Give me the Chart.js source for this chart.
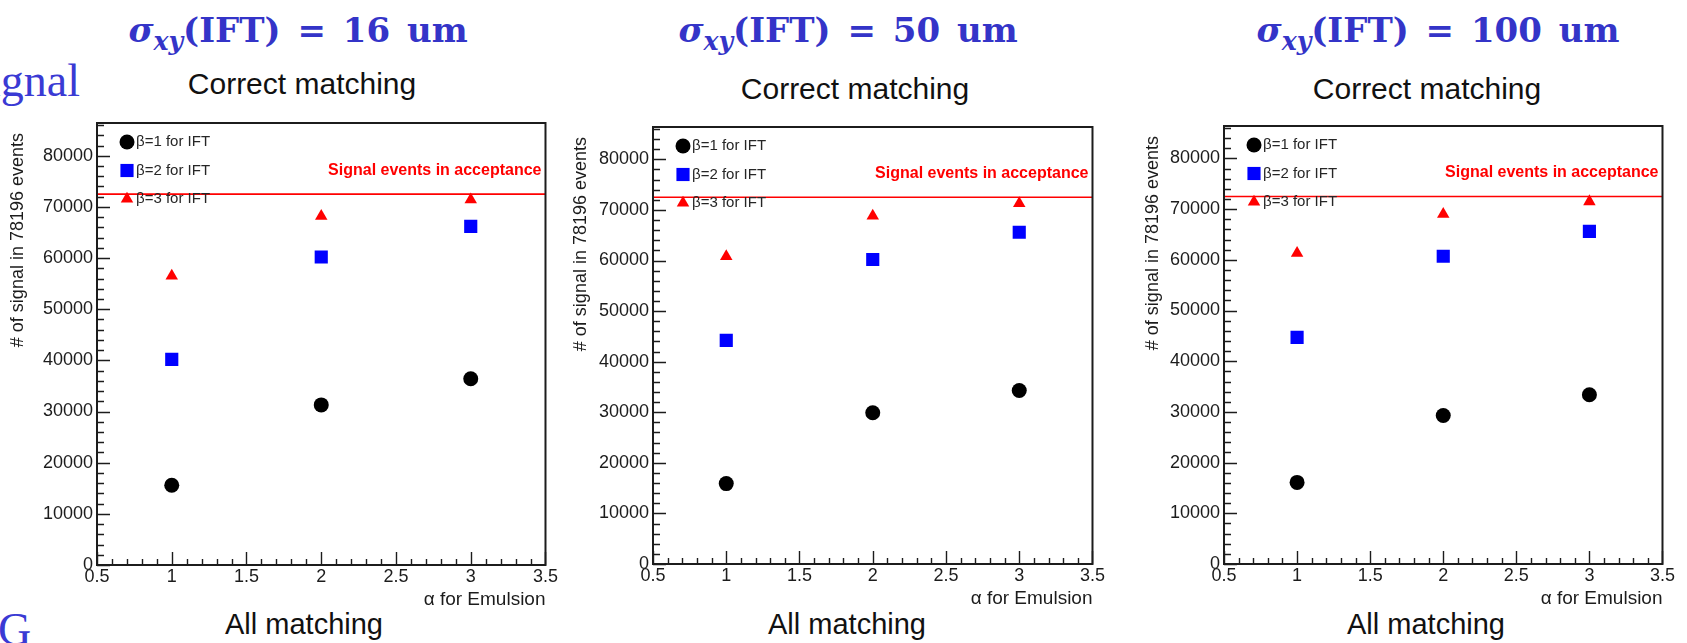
<!DOCTYPE html>
<html>
<head>
<meta charset="utf-8">
<script src="https://cdn.jsdelivr.net/npm/chart.js@4.4.1/dist/chart.umd.min.js"></script>
<style>
  html, body { margin: 0; padding: 0; background: #fff; }
  body { width: 1687px; height: 643px; position: relative; overflow: hidden; }
  canvas { position: absolute; }
  .txt { position: absolute; white-space: nowrap; line-height: 1; }
  .big { font-family: "DejaVu Serif", serif; font-weight: bold; font-size: 34px; word-spacing: 5px; color: #3434c8; transform: translateX(-50%); top: 13px; }
  .big i { font-style: italic; }
  .big sub { font-size: 0.74em; vertical-align: -0.3em; line-height: 0; }
  .sub { font-family: "Liberation Sans", Arial, sans-serif; color: #111; transform: translateX(-50%); }
  .correct { font-size: 30px; }
  .all { font-size: 29px; }
  .slide { font-family: "Liberation Serif", "Times New Roman", serif; font-size: 46px; color: #3a3ad4; }
</style>
</head>
<body>
<div class="txt slide" style="right:1607px; top:58px;">Signal</div>
<div class="txt slide" style="left:-2px; top:607px;">G</div>

<div class="txt big" style="left:298px;"><i>σ</i><sub><i>xy</i></sub>(IFT) = 16 um</div>
<div class="txt big" style="left:848px;"><i>σ</i><sub><i>xy</i></sub>(IFT) = 50 um</div>
<div class="txt big" style="left:1438px;"><i>σ</i><sub><i>xy</i></sub>(IFT) = 100 um</div>

<div class="txt sub correct" style="left:302px; top:69px;">Correct matching</div>
<div class="txt sub correct" style="left:855px; top:74px;">Correct matching</div>
<div class="txt sub correct" style="left:1427px; top:74px;">Correct matching</div>

<div class="txt sub all" style="left:304px; top:610px;">All matching</div>
<div class="txt sub all" style="left:847px; top:610px;">All matching</div>
<div class="txt sub all" style="left:1426px; top:610px;">All matching</div>

<canvas id="panel-16"></canvas>
<canvas id="panel-50"></canvas>
<canvas id="panel-100"></canvas>

<script>
// alpha values (x) shared by every panel
const alphaValues = [1, 2, 3];
const seriesLabels = ["β=1 for IFT", "β=2 for IFT", "β=3 for IFT"];

// sigma_xy(IFT) = 16 um
const beta1_16um = [15600, 31300, 36400];
const beta2_16um = [40200, 60200, 66200];
const beta3_16um = [56500, 68200, 71400];

// sigma_xy(IFT) = 50 um
const beta1_50um = [15900, 29900, 34300];
const beta2_50um = [44200, 60200, 65600];
const beta3_50um = [60800, 68800, 71300];

// sigma_xy(IFT) = 100 um
const beta1_100um = [16100, 29300, 33400];
const beta2_100um = [44700, 60700, 65600];
const beta3_100um = [61300, 69000, 71500];

// signal events in acceptance (horizontal red line)
const acceptanceEvents = 72500;

// tick labels
const xTickValues = [0.5, 1, 1.5, 2, 2.5, 3, 3.5];
const yTickValues = [0, 10000, 20000, 30000, 40000, 50000, 60000, 70000, 80000];

const X_MIN = 0.5, X_MAX = 3.5, X_MINOR = 0.1;
const Y_MIN = 0, Y_MAX = 86400, Y_MINOR = 2000;

const X_TITLE = "α for Emulsion";
const Y_TITLE = "# of signal in 78196 events";
const LINE_LABEL = "Signal events in acceptance";

const SANS = '"Liberation Sans", Arial, sans-serif';
const INK = "#1c1c1c";

// plot frames in page pixels, and where each y title sits
const panels = [
  { id: "panel-16",  frame: { L: 97,   T: 120, R: 551,  B: 565 }, yTitleX: 18,   series: [beta1_16um, beta2_16um, beta3_16um] },
  { id: "panel-50",  frame: { L: 653,  T: 124, R: 1098, B: 564 }, yTitleX: 581,  series: [beta1_50um, beta2_50um, beta3_50um] },
  { id: "panel-100", frame: { L: 1224, T: 123, R: 1668, B: 564 }, yTitleX: 1153, series: [beta1_100um, beta2_100um, beta3_100um] },
];

const markerStyles = [
  { pointStyle: "circle",   radius: 7.5, color: "#000000" },
  { pointStyle: "rect",     radius: 9.3, color: "#0000ff" },
  { pointStyle: "triangle", radius: 7.2, color: "#ff0000" },
];

function drawMarker(ctx, style, x, y) {
  ctx.fillStyle = style.color;
  if (Chart.helpers && Chart.helpers.drawPoint) {
    Chart.helpers.drawPoint(ctx, { pointStyle: style.pointStyle, radius: style.radius, rotation: 0, borderWidth: 0 }, x, y);
    return;
  }
  ctx.beginPath();
  ctx.arc(x, y, style.radius, 0, Math.PI * 2);
  ctx.fill();
}

// ROOT-like frame: box, inward ticks, legend, red acceptance line, y title
const rootFrame = {
  id: "rootFrame",
  beforeDatasetsDraw(chart, args, opts) {
    const { ctx, chartArea: a } = chart;
    const yLine = chart.scales.y.getPixelForValue(opts.acceptance);
    ctx.save();
    ctx.strokeStyle = "#ff0000";
    ctx.lineWidth = 1.6;
    ctx.beginPath();
    ctx.moveTo(a.left, yLine);
    ctx.lineTo(a.right, yLine);
    ctx.stroke();
    ctx.fillStyle = "#ff0000";
    ctx.font = `bold 16px ${SANS}`;
    ctx.textAlign = "right";
    ctx.textBaseline = "middle";
    ctx.fillText(LINE_LABEL, a.right - 4, yLine - 24);
    ctx.restore();
  },
  afterDatasetsDraw(chart, args, opts) {
    const { ctx, chartArea: a } = chart;
    const xs = chart.scales.x;
    const ys = chart.scales.y;
    ctx.save();

    ctx.strokeStyle = INK;
    ctx.lineWidth = 1.4;
    ctx.beginPath();
    // y minor ticks, then major ticks from the axis itself
    for (let v = Y_MIN; v <= Y_MAX; v += Y_MINOR) {
      const py = Math.round(ys.getPixelForValue(v)) + 0.5;
      ctx.moveTo(a.left, py);
      ctx.lineTo(a.left + 7, py);
    }
    ys.ticks.forEach((t) => {
      const py = Math.round(ys.getPixelForValue(t.value)) + 0.5;
      ctx.moveTo(a.left, py);
      ctx.lineTo(a.left + 13, py);
    });
    // x minor ticks, then major ticks
    const nMinor = Math.round((X_MAX - X_MIN) / X_MINOR);
    for (let i = 0; i <= nMinor; i++) {
      const px = Math.round(xs.getPixelForValue(X_MIN + i * X_MINOR)) + 0.5;
      ctx.moveTo(px, a.bottom);
      ctx.lineTo(px, a.bottom - 6);
    }
    xs.ticks.forEach((t) => {
      const px = Math.round(xs.getPixelForValue(t.value)) + 0.5;
      ctx.moveTo(px, a.bottom);
      ctx.lineTo(px, a.bottom - 13);
    });
    ctx.stroke();

    // frame
    ctx.lineWidth = 2;
    ctx.strokeRect(a.left, a.top, a.right - a.left, a.bottom - a.top);

    // legend
    ctx.font = `15px ${SANS}`;
    ctx.textAlign = "left";
    ctx.textBaseline = "middle";
    chart.data.datasets.forEach((ds, i) => {
      const y = a.top + 19 + i * 28.5;
      drawMarker(ctx, markerStyles[i], a.left + 30, y);
      ctx.fillStyle = "#262626";
      ctx.fillText(ds.label, a.left + 39, y);
    });

    // y title, rotated, ending near the top of the frame
    ctx.translate(opts.yTitleX, a.top + 10);
    ctx.rotate(-Math.PI / 2);
    ctx.font = `18px ${SANS}`;
    ctx.fillStyle = INK;
    ctx.textAlign = "right";
    ctx.textBaseline = "middle";
    ctx.fillText(Y_TITLE, 0, 0);
    ctx.restore();
  },
};

function makePanel(panel) {
  const f = panel.frame;
  const left = f.L - 97;
  const top = f.T - 10;
  const width = f.R - left + 10;
  const height = f.B - top + 46;
  const canvas = document.getElementById(panel.id);
  canvas.width = width;
  canvas.height = height;
  canvas.style.left = left + "px";
  canvas.style.top = top + "px";

  const datasets = panel.series.map((values, i) => ({
    label: seriesLabels[i],
    data: values.map((v, k) => ({ x: alphaValues[k], y: v })),
    pointStyle: markerStyles[i].pointStyle,
    pointRadius: markerStyles[i].radius,
    pointBackgroundColor: markerStyles[i].color,
    pointBorderWidth: 0,
    showLine: false,
  }));

  const tickFont = { family: SANS, size: 18, lineHeight: 1 };

  return new Chart(canvas, {
    type: "scatter",
    data: { datasets },
    options: {
      responsive: false,
      animation: false,
      devicePixelRatio: 1,
      events: [],
      layout: { padding: { left: 0, top: 10, right: 10, bottom: 0 } },
      plugins: {
        legend: { display: false },
        tooltip: { enabled: false },
        rootFrame: { acceptance: acceptanceEvents, yTitleX: panel.yTitleX - left },
      },
      scales: {
        x: {
          type: "linear",
          min: X_MIN,
          max: X_MAX,
          grid: { display: false, drawTicks: false },
          border: { display: false },
          afterBuildTicks(scale) { scale.ticks = xTickValues.map((value) => ({ value })); },
          ticks: {
            autoSkip: false,
            maxRotation: 0,
            padding: 3,
            color: INK,
            font: tickFont,
            callback: (v) => String(v),
          },
          title: {
            display: true,
            text: X_TITLE,
            align: "end",
            color: INK,
            font: { family: SANS, size: 19 },
            padding: 0,
          },
          afterFit(scale) { scale.height = 46; },
        },
        y: {
          type: "linear",
          min: Y_MIN,
          max: Y_MAX,
          grid: { display: false, drawTicks: false },
          border: { display: false },
          afterBuildTicks(scale) { scale.ticks = yTickValues.map((value) => ({ value })); },
          ticks: {
            autoSkip: false,
            padding: 4,
            color: INK,
            font: tickFont,
            callback: (v) => String(v),
          },
          afterFit(scale) { scale.width = 97; },
        },
      },
    },
    plugins: [rootFrame],
  });
}

panels.forEach(makePanel);
</script>
</body>
</html>
